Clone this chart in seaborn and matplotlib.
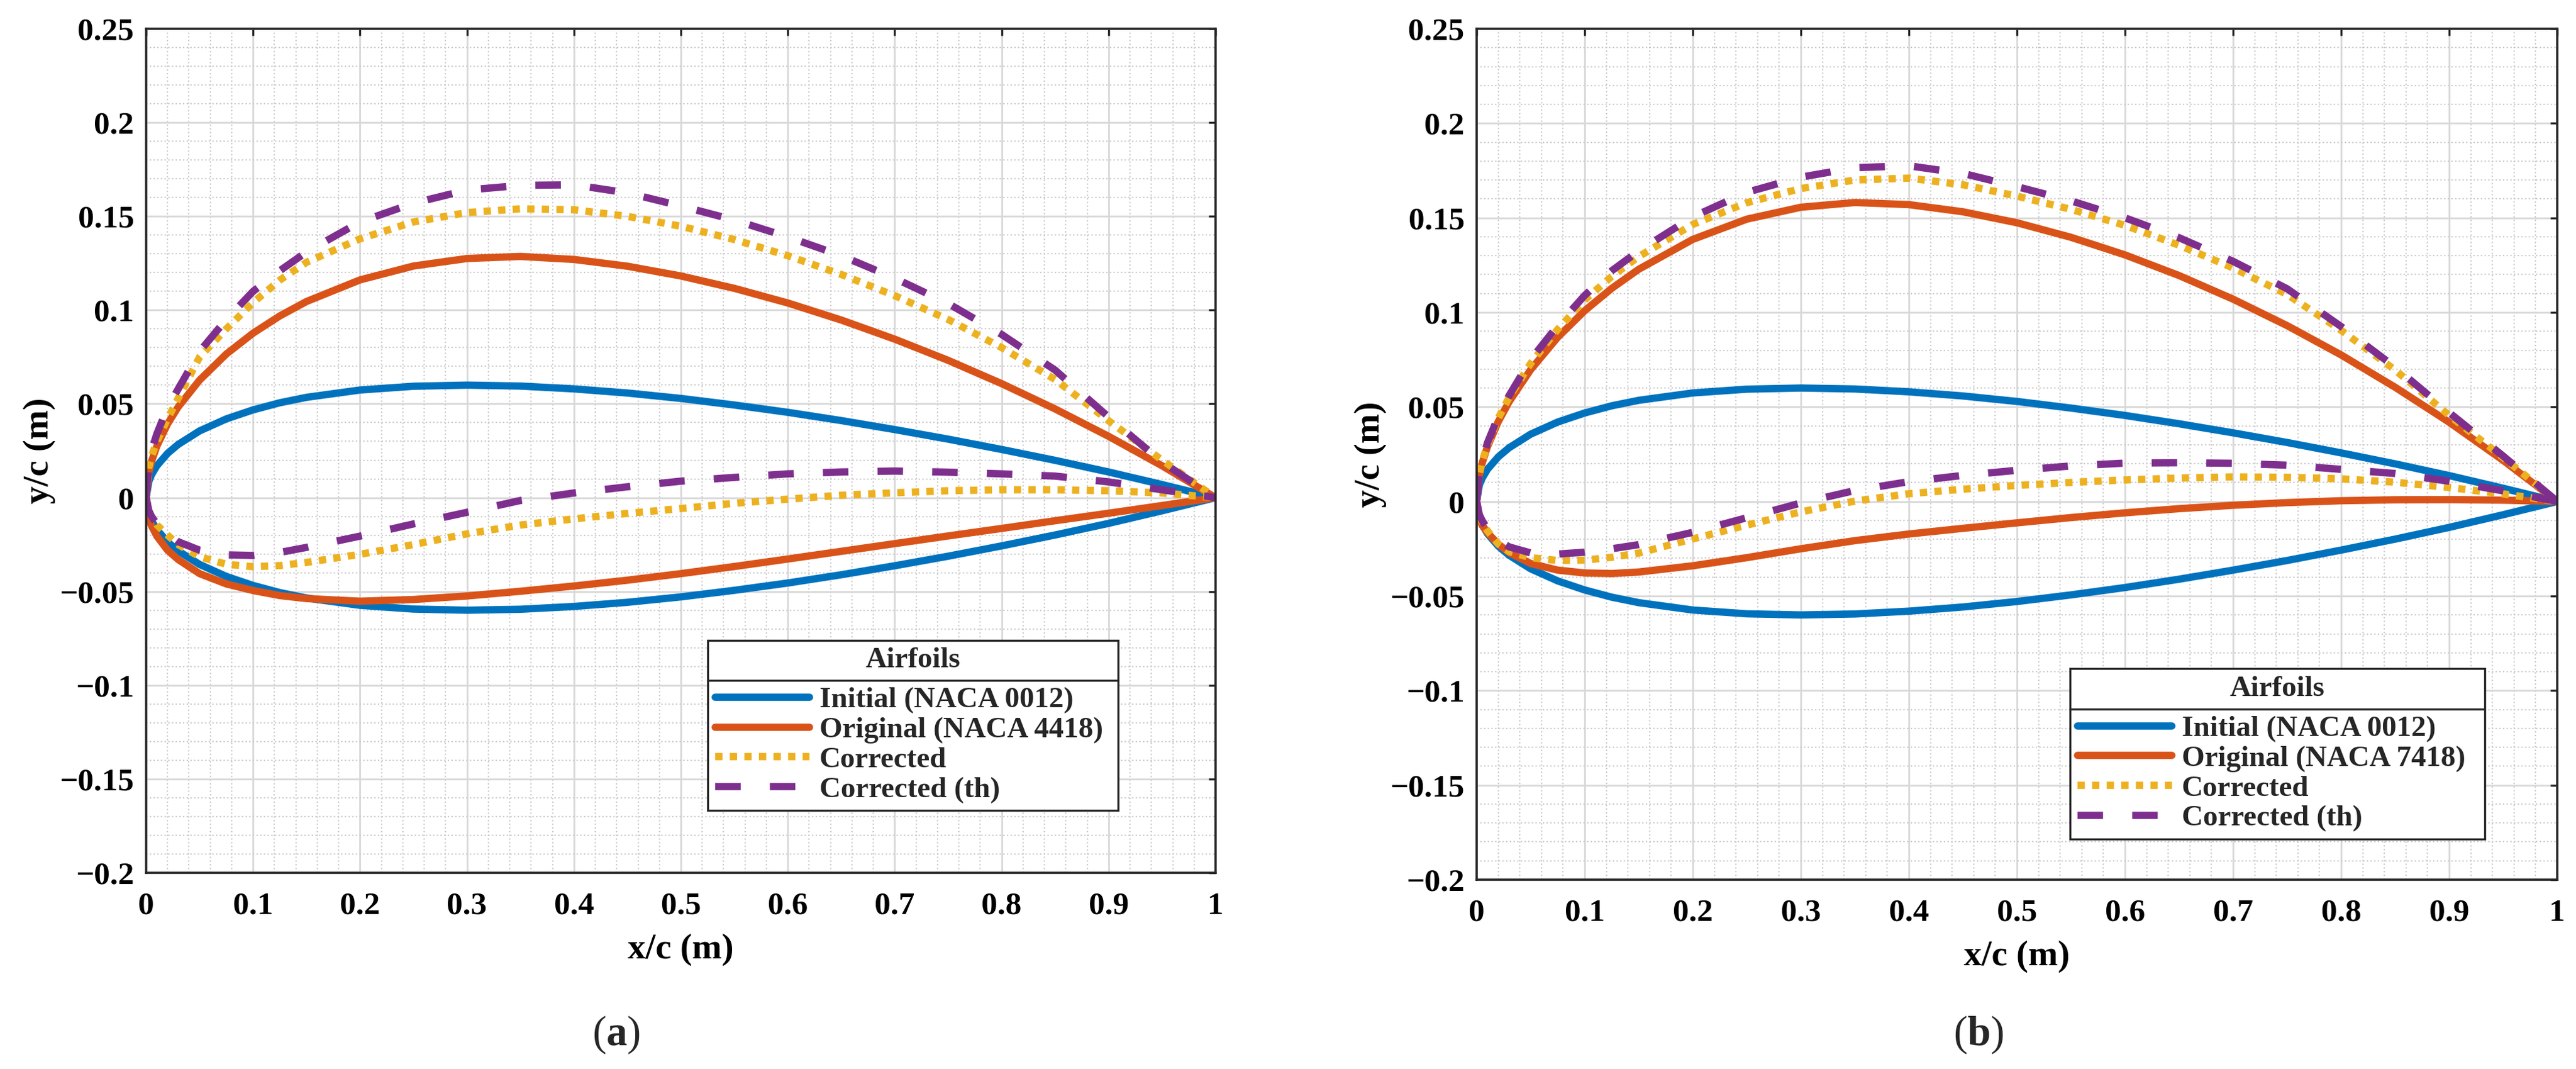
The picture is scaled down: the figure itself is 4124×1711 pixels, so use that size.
import matplotlib
matplotlib.use("Agg")
import matplotlib.pyplot as plt
import seaborn as sns
from matplotlib.lines import Line2D
from matplotlib.ticker import FixedLocator, FixedFormatter, MultipleLocator

# ---------------- data ----------------
X_C = [0, 0.0025, 0.005, 0.01, 0.02, 0.03, 0.05, 0.075, 0.1, 0.125, 0.15, 0.2, 0.25,
       0.3, 0.35, 0.4, 0.45, 0.5, 0.55, 0.6, 0.65, 0.7, 0.75, 0.8, 0.85, 0.9, 0.95, 1.0]

# Initial (NACA 0012) - same in both panels
INITIAL_UPPER = [0, 0.0087, 0.0122, 0.0170, 0.0236, 0.0284, 0.0356, 0.0420, 0.0468, 0.0506,
                 0.0535, 0.0574, 0.0594, 0.0600, 0.0595, 0.0580, 0.0558, 0.0529, 0.0494, 0.0455,
                 0.0411, 0.0363, 0.0312, 0.0257, 0.0199, 0.0137, 0.0070, 0]
INITIAL_LOWER = [0, -0.0087, -0.0122, -0.0170, -0.0236, -0.0284, -0.0356, -0.0420, -0.0468, -0.0506,
                 -0.0535, -0.0574, -0.0594, -0.0600, -0.0595, -0.0580, -0.0558, -0.0529, -0.0494, -0.0455,
                 -0.0411, -0.0363, -0.0312, -0.0257, -0.0199, -0.0137, -0.0070, 0]

# Panel (a): Original NACA 4418
ORIG_A_UPPER = [0, 0.0136, 0.0193, 0.0275, 0.0393, 0.0484, 0.0627, 0.0766, 0.0877, 0.0969,
                0.1046, 0.1161, 0.1235, 0.1275, 0.1286, 0.1270, 0.1234, 0.1182, 0.1116, 0.1038,
                0.0947, 0.0845, 0.0732, 0.0608, 0.0473, 0.0327, 0.0170, 0]
ORIG_A_LOWER = [0, -0.011, -0.015, -0.0205, -0.028, -0.033, -0.0405, -0.046, -0.0495, -0.0522,
                -0.0538, -0.0552, -0.0543, -0.0524, -0.0499, -0.0471, -0.0440, -0.0405, -0.0367, -0.0327,
                -0.0286, -0.0245, -0.0204, -0.0164, -0.0123, -0.0083, -0.0042, 0]
CORR_A_UPPER = [0, 0.016, 0.022, 0.030, 0.042, 0.053, 0.075, 0.090, 0.104, 0.116,
                0.1255, 0.138, 0.147, 0.152, 0.154, 0.1535, 0.150, 0.1447, 0.1376, 0.129,
                0.119, 0.1077, 0.095, 0.080, 0.063, 0.041, 0.020, 0]
CORR_A_LOWER = [0, -0.007, -0.010, -0.0145, -0.020, -0.025, -0.0315, -0.0355, -0.0368, -0.0362,
                -0.0345, -0.0302, -0.0250, -0.0193, -0.0146, -0.0113, -0.0084, -0.0058, -0.003, -0.0008,
                0.0013, 0.0026, 0.0037, 0.0042, 0.0042, 0.0037, 0.0025, 0]
CORRTH_A_UPPER = [0, 0.018, 0.025, 0.034, 0.048, 0.058, 0.078, 0.095, 0.110, 0.121,
                  0.131, 0.147, 0.157, 0.164, 0.1665, 0.1668, 0.1625, 0.1555, 0.148, 0.139,
                  0.129, 0.117, 0.1035, 0.087, 0.068, 0.043, 0.019, 0]
CORRTH_A_LOWER = [0, -0.007, -0.010, -0.014, -0.019, -0.0235, -0.028, -0.0305, -0.0308, -0.0292,
                  -0.0265, -0.0205, -0.014, -0.0078, -0.0015, 0.0025, 0.0058, 0.0088, 0.0108, 0.0127,
                  0.0137, 0.0142, 0.0136, 0.0127, 0.0115, 0.0084, 0.0042, 0]

# Panel (b): Original NACA 7418
ORIG_B_UPPER = [0, 0.0140, 0.0201, 0.0290, 0.0422, 0.0527, 0.0697, 0.0868, 0.1009, 0.1127,
                0.1228, 0.1386, 0.1493, 0.1556, 0.1581, 0.1570, 0.1532, 0.1474, 0.1397, 0.1304,
                0.1195, 0.1070, 0.0930, 0.0775, 0.0604, 0.0419, 0.0217, 0]
ORIG_B_LOWER = [0, -0.009, -0.0125, -0.0165, -0.0225, -0.027, -0.0328, -0.0363, -0.0378, -0.0381,
                -0.0373, -0.0340, -0.0297, -0.0250, -0.0207, -0.0172, -0.0142, -0.0113, -0.0085, -0.0060,
                -0.0038, -0.0020, -0.0006, 0.0004, 0.0009, 0.0010, 0.0007, 0]
CORR_B_UPPER = [0, 0.0145, 0.021, 0.030, 0.044, 0.055, 0.073, 0.091, 0.1066, 0.119,
                0.1295, 0.1465, 0.158, 0.1655, 0.170, 0.171, 0.1675, 0.1615, 0.1545, 0.146,
                0.1355, 0.1235, 0.1095, 0.0905, 0.0695, 0.0455, 0.0232, 0]
CORR_B_LOWER = [0, -0.0075, -0.011, -0.0155, -0.0225, -0.0265, -0.0297, -0.0312, -0.0310, -0.0295,
                -0.0273, -0.0198, -0.0125, -0.0055, 0.0002, 0.0041, 0.0065, 0.0085, 0.0101, 0.0114,
                0.0124, 0.0130, 0.0128, 0.0120, 0.0102, 0.0074, 0.0040, 0]
CORRTH_B_UPPER = [0, 0.015, 0.0215, 0.031, 0.045, 0.056, 0.075, 0.093, 0.109, 0.122,
                  0.1325, 0.1505, 0.1635, 0.1715, 0.1765, 0.1775, 0.1735, 0.1665, 0.159, 0.1500,
                  0.1395, 0.127, 0.1125, 0.0925, 0.071, 0.047, 0.024, 0]
CORRTH_B_LOWER = [0, -0.007, -0.010, -0.0145, -0.0205, -0.024, -0.0272, -0.0278, -0.0268, -0.0250,
                  -0.0228, -0.0163, -0.0086, -0.0008, 0.0058, 0.0105, 0.0138, 0.0165, 0.0188, 0.0203,
                  0.0205, 0.0202, 0.0192, 0.0170, 0.0148, 0.0107, 0.0056, 0]

LEGEND_TITLE = "Airfoils"
LABELS_A = ["Initial (NACA 0012)", "Original (NACA 4418)", "Corrected", "Corrected (th)"]
LABELS_B = ["Initial (NACA 0012)", "Original (NACA 7418)", "Corrected", "Corrected (th)"]
X_TICKS = [0, 0.1, 0.2, 0.3, 0.4, 0.5, 0.6, 0.7, 0.8, 0.9, 1.0]
X_TICK_LABELS = ["0", "0.1", "0.2", "0.3", "0.4", "0.5", "0.6", "0.7", "0.8", "0.9", "1"]
Y_TICKS = [-0.2, -0.15, -0.1, -0.05, 0, 0.05, 0.1, 0.15, 0.2, 0.25]
Y_TICK_LABELS = ["\u22120.2", "\u22120.15", "\u22120.1", "\u22120.05", "0",
                 "0.05", "0.1", "0.15", "0.2", "0.25"]
X_LABEL = "x/c (m)"
Y_LABEL = "y/c (m)"
PANEL_TAGS = ["a", "b"]

# ---------------- style ----------------
COLORS = ["#0072BD", "#D95319", "#EDB120", "#7E2F8E"]
STYLES = ["-", "-", (0, (1, 1)), (0, (3.5, 4))]
LW = 4.2
TICK_FS = 18.5
LABEL_FS = 20.5
LEG_FS = 17

sns.set_theme(style="white")
plt.rcParams["font.family"] = ["Liberation Serif", "DejaVu Serif"]
plt.rcParams["font.weight"] = "bold"
plt.rcParams["axes.labelweight"] = "bold"
plt.rcParams["mathtext.fontset"] = "custom"
plt.rcParams["mathtext.rm"] = "Liberation Serif"
plt.rcParams["mathtext.bf"] = "Liberation Serif:bold"
plt.rcParams["axes.unicode_minus"] = True

fig = plt.figure(figsize=(20.62, 8.555), dpi=200)
fig.patch.set_facecolor("white")
ax_a = fig.add_axes([0.05674, 0.18352, 0.41513, 0.78960])
ax_b = fig.add_axes([0.57323, 0.17709, 0.41950, 0.79603])

panels = [
    (ax_a, [(INITIAL_UPPER, INITIAL_LOWER), (ORIG_A_UPPER, ORIG_A_LOWER),
            (CORR_A_UPPER, CORR_A_LOWER), (CORRTH_A_UPPER, CORRTH_A_LOWER)], LABELS_A,
     (0.525, 0.0444, 0.384, 0.2312), (-0.0847, -0.072)),
    (ax_b, [(INITIAL_UPPER, INITIAL_LOWER), (ORIG_B_UPPER, ORIG_B_LOWER),
            (CORR_B_UPPER, CORR_B_LOWER), (CORRTH_B_UPPER, CORRTH_B_LOWER)], LABELS_B,
     (0.549, 0.0178, 0.384, 0.2300), (-0.0832, -0.0714)),
]

legends = []
for ax, series, labels, lbox, lab_xy in panels:
    handles = []
    for (up, lo), lab, col, ls in zip(series, labels, COLORS, STYLES):
        sns.lineplot(x=X_C, y=up, ax=ax, color=col, linewidth=LW, linestyle=ls,
                     estimator=None, sort=False, errorbar=None, label=lab, legend=False)
        handles.append(ax.lines[-1])
        sns.lineplot(x=X_C, y=lo, ax=ax, color=col, linewidth=LW, linestyle=ls,
                     estimator=None, sort=False, errorbar=None, legend=False)

    ax.set_xlim(0, 1)
    ax.set_ylim(-0.2, 0.25)
    ax.xaxis.set_major_locator(FixedLocator(X_TICKS))
    ax.xaxis.set_major_formatter(FixedFormatter(X_TICK_LABELS))
    ax.yaxis.set_major_locator(FixedLocator(Y_TICKS))
    ax.yaxis.set_major_formatter(FixedFormatter(Y_TICK_LABELS))
    ax.xaxis.set_minor_locator(MultipleLocator(0.02))
    ax.yaxis.set_minor_locator(MultipleLocator(0.01))
    ax.set_axisbelow(True)
    ax.grid(which="major", color="#D8D8D8", linewidth=1.0, linestyle="-")
    ax.grid(which="minor", color="#CCCCCC", linewidth=0.8, linestyle=":")
    ax.tick_params(which="major", direction="in", length=4, width=1.2, color="#262626",
                   top=True, right=True, labelsize=TICK_FS, labelcolor="black")
    ax.tick_params(axis="x", which="major", pad=11)
    ax.tick_params(axis="y", which="major", pad=7)
    ax.tick_params(which="minor", length=0, top=True, right=True)
    for lbl in ax.get_xticklabels() + ax.get_yticklabels():
        lbl.set_fontweight("bold")
    for sp in ax.spines.values():
        sp.set_color("#262626")
        sp.set_linewidth(1.3)
        sp.set_visible(True)

    ax.set_xlabel(X_LABEL, fontsize=LABEL_FS, fontweight="bold", color="black")
    ax.set_ylabel(Y_LABEL, fontsize=LABEL_FS, fontweight="bold", color="black")
    ax.yaxis.set_label_coords(lab_xy[0], 0.5)
    ax.xaxis.set_label_coords(0.5, lab_xy[1])

    leg = ax.legend(handles=handles, labels=labels, title=LEGEND_TITLE,
                    loc="upper left", bbox_to_anchor=lbox, mode="expand",
                    borderaxespad=0, fontsize=LEG_FS,
                    title_fontproperties={"weight": "bold", "size": LEG_FS},
                    handlelength=3.2, handletextpad=0.35, borderpad=0.25,
                    labelspacing=0.1, frameon=True, fancybox=False,
                    framealpha=1, edgecolor="#262626", facecolor="white")
    leg.get_frame().set_linewidth(1.2)
    for t in leg.get_texts():
        t.set_fontweight("bold")
    try:
        leg._legend_box.sep = 7.5
    except Exception:
        pass
    legends.append(leg)

# panel tags
fig.text(0.2391, 0.0322, r"($\mathbf{%s}$)" % PANEL_TAGS[0], fontsize=24,
         fontweight="normal", ha="center", va="center")
fig.text(0.7679, 0.0322, r"($\mathbf{%s}$)" % PANEL_TAGS[1], fontsize=24,
         fontweight="normal", ha="center", va="center")

# separator line under each legend title (computed from the drawn legend)
fig.canvas.draw()
renderer = fig.canvas.get_renderer()
inv = fig.transFigure.inverted()
for leg in legends:
    fb = leg.get_frame().get_window_extent(renderer)
    tb = leg.get_title().get_window_extent(renderer)
    eb = leg.get_texts()[0].get_window_extent(renderer)
    ysep = (tb.y0 + eb.y1) / 2.0
    (x0, y0), (x1, _) = inv.transform([(fb.x0, ysep), (fb.x1, ysep)])
    fig.add_artist(Line2D([x0, x1], [y0, y0], transform=fig.transFigure,
                          color="#262626", linewidth=1.2))

fig.savefig("out.png", dpi=200, facecolor="white")
